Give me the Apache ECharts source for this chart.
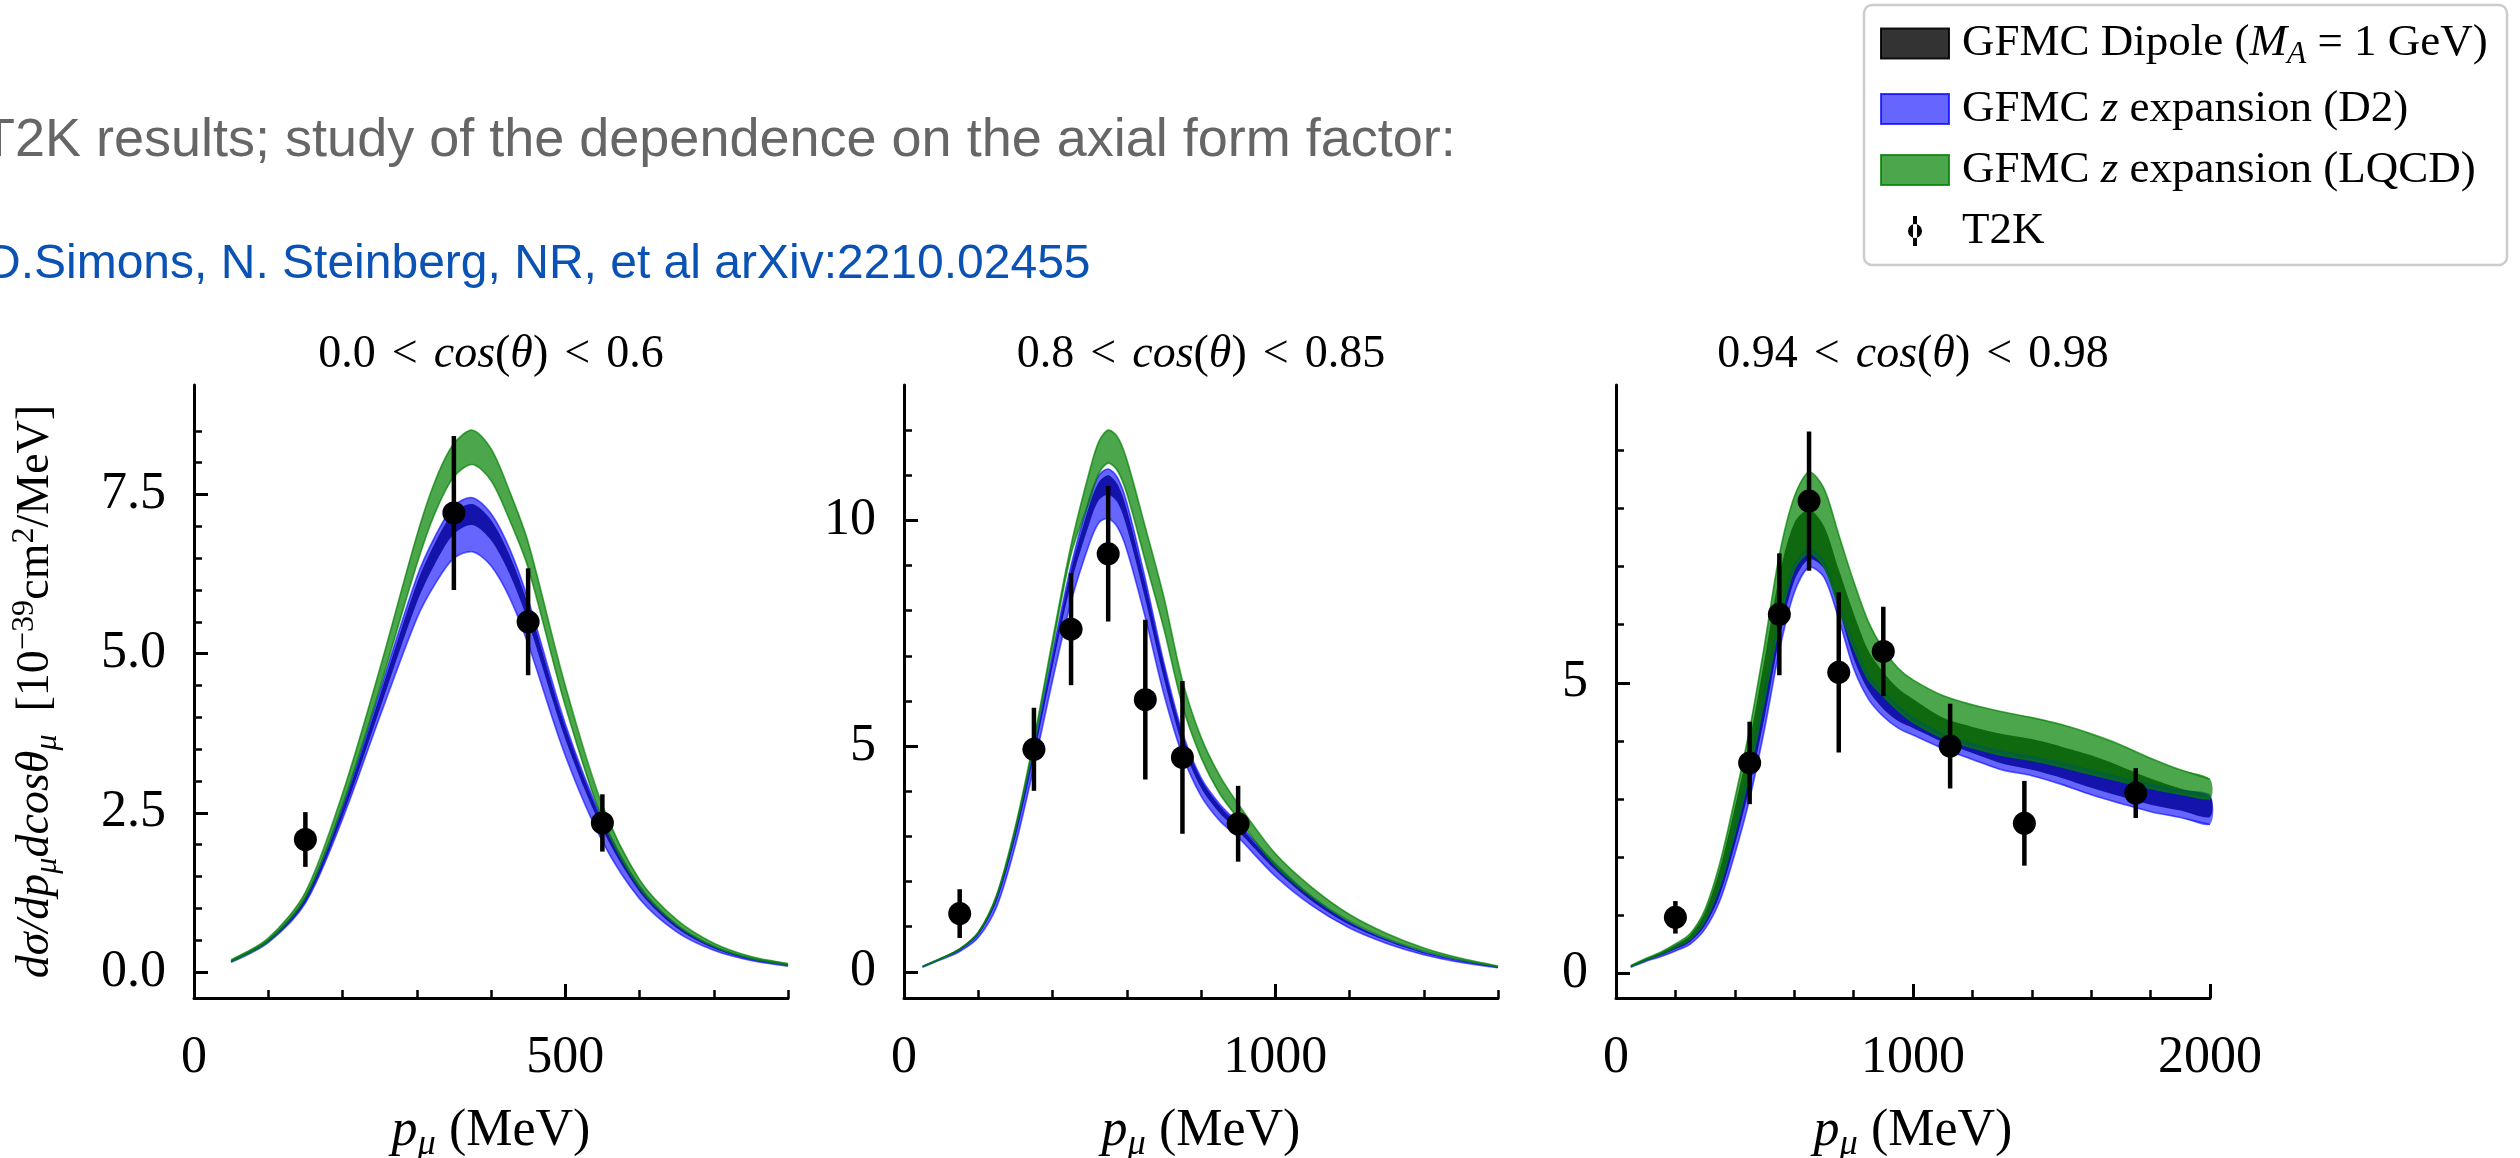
<!DOCTYPE html>
<html>
<head>
<meta charset="utf-8">
<script src="https://cdn.jsdelivr.net/npm/echarts/dist/echarts.min.js"></script>
<style>
html,body{margin:0;padding:0;background:#fff;}
#chart{width:2520px;height:1158px;}
</style>
</head>
<body>
<div id="chart"></div>
<script>
// ---------------- DATA ----------------
// Panel 1 : 0.0 < cos(theta) < 0.6
const p1_x      = [50,100,150,200,250,300,325,350,375,400,425,450,500,550,600,650,700,750,800];
const p1_lq_hi  = [0.19,0.53,1.25,2.80,4.75,6.85,7.72,8.30,8.51,8.22,7.55,6.75,4.50,2.62,1.45,0.82,0.45,0.24,0.13];
const p1_lq_lo  = [0.16,0.48,1.16,2.62,4.45,6.40,7.22,7.78,7.97,7.72,7.10,6.35,4.18,2.40,1.32,0.74,0.40,0.21,0.11];
const p1_d2_hi  = [0.17,0.50,1.17,2.60,4.40,6.20,6.85,7.32,7.45,7.20,6.65,5.85,3.90,2.40,1.35,0.74,0.40,0.21,0.11];
const p1_d2_lo  = [0.15,0.46,1.08,2.40,4.00,5.55,6.10,6.50,6.60,6.38,5.88,5.15,3.40,2.05,1.15,0.63,0.34,0.18,0.09];
const p1_dip_hi = [0.17,0.49,1.15,2.56,4.33,6.10,6.75,7.22,7.35,7.10,6.55,5.77,3.85,2.36,1.33,0.73,0.39,0.20,0.10];
const p1_dip_lo = [0.16,0.47,1.10,2.45,4.12,5.80,6.42,6.88,7.02,6.78,6.25,5.50,3.66,2.24,1.26,0.69,0.37,0.19,0.10];
const p1_t2k_x   = [150,350,450,550];
const p1_t2k_y   = [2.08,7.21,5.50,2.34];
const p1_t2k_err = [0.43,1.21,0.84,0.45];

// Panel 2 : 0.8 < cos(theta) < 0.85
const p2_x      = [50,100,150,200,250,300,350,400,450,500,525,550,575,600,650,700,750,800,850,900,1000,1100,1200,1300,1400,1500,1600];
const p2_lq_hi  = [0.12,0.30,0.51,0.88,1.72,3.22,5.15,7.35,9.45,11.10,11.75,12.00,11.85,11.35,9.85,8.30,6.45,5.20,4.35,3.72,2.62,1.86,1.27,0.85,0.53,0.30,0.13];
const p2_lq_lo  = [0.12,0.29,0.50,0.86,1.68,3.15,5.05,7.20,9.25,10.45,11.05,11.27,11.10,10.60,9.10,7.60,5.90,4.75,3.95,3.40,2.35,1.65,1.12,0.74,0.46,0.26,0.11];
const p2_d2_hi  = [0.12,0.30,0.50,0.86,1.66,3.12,4.98,7.05,9.00,10.50,11.00,11.14,10.95,10.40,8.70,6.85,5.30,4.30,3.72,3.30,2.40,1.66,1.10,0.72,0.44,0.25,0.10];
const p2_d2_lo  = [0.10,0.27,0.45,0.76,1.45,2.80,4.55,6.45,8.20,9.50,9.95,10.04,9.85,9.35,7.85,6.15,4.80,3.90,3.35,2.98,2.12,1.46,0.97,0.63,0.38,0.21,0.09];
const p2_dip_hi = [0.12,0.30,0.50,0.85,1.64,3.08,4.92,6.95,8.90,10.35,10.85,11.00,10.80,10.25,8.60,6.80,5.25,4.27,3.68,3.26,2.37,1.64,1.09,0.71,0.43,0.24,0.10];
const p2_dip_lo = [0.11,0.29,0.48,0.82,1.58,2.98,4.78,6.75,8.60,9.95,10.45,10.57,10.40,9.85,8.25,6.50,5.02,4.08,3.52,3.12,2.26,1.56,1.04,0.68,0.41,0.23,0.10];
const p2_t2k_x   = [150,350,450,550,650,750,900];
const p2_t2k_y   = [1.29,4.93,7.59,9.26,6.03,4.75,3.28];
const p2_t2k_err = [0.54,0.92,1.24,1.50,1.77,1.69,0.84];

// Panel 3 : 0.94 < cos(theta) < 0.98
const p3_x      = [50,100,150,200,250,300,350,400,450,500,550,600,650,700,750,800,850,900,950,1000,1100,1200,1300,1400,1500,1600,1700,1800,1900,2000];
const p3_lq_hi  = [0.13,0.25,0.36,0.50,0.68,1.10,1.90,3.00,4.20,5.65,7.20,8.20,8.63,8.35,7.55,6.75,6.05,5.58,5.25,5.05,4.78,4.62,4.50,4.40,4.28,4.12,3.93,3.70,3.50,3.34];
const p3_lq_lo  = [0.11,0.22,0.32,0.44,0.58,0.90,1.50,2.40,3.45,4.70,6.00,6.95,7.23,7.00,6.30,5.60,5.05,4.77,4.52,4.32,4.05,3.88,3.75,3.66,3.55,3.42,3.30,3.18,3.08,3.00];
const p3_d2_hi  = [0.12,0.23,0.33,0.45,0.60,0.93,1.55,2.48,3.55,4.82,6.10,7.02,7.30,7.08,6.38,5.68,5.12,4.84,4.60,4.40,4.12,3.95,3.82,3.73,3.62,3.49,3.37,3.25,3.15,3.07];
const p3_d2_lo  = [0.10,0.20,0.28,0.38,0.50,0.76,1.25,2.05,3.00,4.20,5.55,6.55,6.99,6.82,6.10,5.25,4.72,4.42,4.22,4.10,3.87,3.68,3.50,3.40,3.25,3.07,2.92,2.78,2.68,2.56];
const p3_dip_hi = [0.12,0.24,0.35,0.48,0.65,1.05,1.80,2.85,4.00,5.40,6.85,7.75,7.98,7.70,6.95,6.20,5.55,5.18,4.90,4.72,4.40,4.24,4.12,4.03,3.90,3.75,3.56,3.35,3.18,3.04];
const p3_dip_lo = [0.11,0.21,0.30,0.41,0.54,0.82,1.35,2.20,3.20,4.40,5.75,6.75,7.13,6.97,6.27,5.42,4.87,4.55,4.34,4.22,3.98,3.79,3.61,3.50,3.36,3.19,3.04,2.90,2.80,2.69];
const p3_t2k_x   = [200,450,550,650,750,900,1125,1375,1750];
const p3_t2k_y   = [0.96,3.62,6.18,8.13,5.18,5.54,3.91,2.58,3.10];
const p3_t2k_err = [0.28,0.71,1.05,1.20,1.38,0.77,0.73,0.73,0.43];

// Axis ranges and ticks
const x_max       = [800, 1600, 2000];
const y_min       = [-0.41, -0.58, -0.43];
const y_max       = [9.22, 13.0, 10.13];
const x_major     = [[0,500],[0,1000],[0,1000,2000]];
const x_minor     = [[100,200,300,400,600,700,800],[200,400,600,800,1200,1400,1600],[200,400,600,800,1200,1400,1600,1800]];
const y_major     = [[0,2.5,5,7.5],[0,5,10],[0,5]];
const y_minor     = [[0.5,1,1.5,2,3,3.5,4,4.5,5.5,6,6.5,7,8,8.5],[1,2,3,4,6,7,8,9,11,12],[1,2,3,4,6,7,8,9]];
const panel_titles = [['0.0','0.6'],['0.8','0.85'],['0.94','0.98']];

const names = {
  dip: 'GFMC Dipole (M_A = 1 GeV)',
  d2: 'GFMC z expansion (D2)',
  lq: 'GFMC z expansion (LQCD)',
  t2k: 'T2K'
};

// ---------------- STYLE ----------------
const SERIF = "'Liberation Serif','Times New Roman',serif";
const SANS = "'Liberation Sans',Arial,Helvetica,sans-serif";
const C_DIP = 'rgba(0,0,0,0.8)';
const C_D2 = 'rgba(0,0,255,0.6)';
const C_LQ = 'rgba(0,128,0,0.7)';

const gridLeft = [194, 904, 1616];
const gridW = 594, gridTop = 385, gridH = 613;

function richSet(fs, relPad) {
  const base = {fontFamily: SERIF, fontWeight: 'normal', color: '#000'};
  return {
    r: Object.assign({}, base, {fontSize: fs, lineHeight: fs * 1.2, verticalAlign: 'middle'}),
    r0: Object.assign({}, base, {fontSize: fs, lineHeight: fs * 1.2, verticalAlign: 'middle', padding: [0,0,0,8]}),
    i: Object.assign({}, base, {fontStyle: 'italic', fontSize: fs, lineHeight: fs * 1.2, verticalAlign: 'middle'}),
    rel: Object.assign({}, base, {fontSize: fs, lineHeight: fs * 1.2, verticalAlign: 'middle', padding: [0, relPad || 8, 0, relPad || 8]}),
    s: Object.assign({}, base, {fontStyle: 'italic', fontSize: fs * 0.7, lineHeight: fs * 0.7, verticalAlign: 'bottom'}),
    sup: Object.assign({}, base, {fontSize: fs * 0.7, lineHeight: fs * 0.7, verticalAlign: 'top'})
  };
}

const panels = [
  {x: p1_x, dip: [p1_dip_lo, p1_dip_hi], d2: [p1_d2_lo, p1_d2_hi], lq: [p1_lq_lo, p1_lq_hi], tx: p1_t2k_x, ty: p1_t2k_y, te: p1_t2k_err},
  {x: p2_x, dip: [p2_dip_lo, p2_dip_hi], d2: [p2_d2_lo, p2_d2_hi], lq: [p2_lq_lo, p2_lq_hi], tx: p2_t2k_x, ty: p2_t2k_y, te: p2_t2k_err},
  {x: p3_x, dip: [p3_dip_lo, p3_dip_hi], d2: [p3_d2_lo, p3_d2_hi], lq: [p3_lq_lo, p3_lq_hi], tx: p3_t2k_x, ty: p3_t2k_y, te: p3_t2k_err}
];

const grids = [], xAxes = [], yAxes = [], series = [], titles = [];

// A band is drawn as one filled polygon (upper edge forward, lower edge back),
// every vertex placed through the axis scales with api.coord.
function bandSeries(pi, xs, lo, hi, name, fill, edge) {
  series.push({
    type: 'custom', name: name, xAxisIndex: 2 * pi, yAxisIndex: 2 * pi,
    silent: true, animation: false, itemStyle: {color: fill},
    data: xs.map((x, i) => [x, lo[i], hi[i]]),
    encode: {x: 0, y: [1, 2]},
    renderItem: function (params, api) {
      if (params.dataIndexInside !== 0) return null;
      const n = params.dataInsideLength;
      const up = [], dn = [];
      for (let k = 0; k < n; k++) {
        const x = api.value(0, k);
        up.push(api.coord([x, api.value(2, k)]));
        dn.push(api.coord([x, api.value(1, k)]));
      }
      const poly = up.concat(dn.slice().reverse());
      const children = [{type: 'polygon', shape: {points: poly, smooth: 0.3}, style: {fill: fill, stroke: null}}];
      if (edge) {
        children.push({type: 'polyline', shape: {points: up, smooth: 0.3}, style: {stroke: fill, lineWidth: 1.6, fill: null}});
        children.push({type: 'polyline', shape: {points: dn, smooth: 0.3}, style: {stroke: fill, lineWidth: 1.6, fill: null}});
      }
      return {type: 'group', children: children};
    }
  });
}

panels.forEach((p, pi) => {
  grids.push({left: gridLeft[pi], top: gridTop, width: gridW, height: gridH, containLabel: false, outerBoundsMode: 'none'});
  xAxes.push({
    type: 'value', gridIndex: pi, position: 'bottom', min: 0, max: x_max[pi],
    axisLine: {show: true, onZero: false, lineStyle: {color: '#000', width: 3}},
    axisTick: {show: true, inside: true, length: 14, lineStyle: {color: '#000', width: 3}, customValues: x_major[pi]},
    axisLabel: {show: true, customValues: x_major[pi], fontFamily: SERIF, fontSize: 52, color: '#000', margin: 34, formatter: v => String(v)},
    splitLine: {show: false},
    name: '{i|p}{s|μ}{r| (MeV)}', nameLocation: 'middle', nameGap: 102,
    nameTextStyle: {rich: richSet(52)}
  });
  xAxes.push({
    type: 'value', gridIndex: pi, position: 'bottom', min: 0, max: x_max[pi],
    axisLine: {show: false, onZero: false},
    axisTick: {show: true, inside: true, length: 8, lineStyle: {color: '#000', width: 2.5}, customValues: x_minor[pi]},
    axisLabel: {show: false}, splitLine: {show: false}
  });
  const yAx = {
    type: 'value', gridIndex: pi, position: 'left', min: y_min[pi], max: y_max[pi],
    axisLine: {show: true, onZero: false, lineStyle: {color: '#000', width: 3}},
    axisTick: {show: true, inside: true, length: 14, lineStyle: {color: '#000', width: 3}, customValues: y_major[pi]},
    axisLabel: {show: true, customValues: y_major[pi], fontFamily: SERIF, fontSize: 52, color: '#000', margin: 28,
      formatter: v => (pi === 0 ? Number(v).toFixed(1) : String(Math.round(v)))},
    splitLine: {show: false}
  };
  if (pi === 0) {
    yAx.name = '{i|dσ/dp}{s|μ}{i|dcosθ}{s|μ}{r|  [10}{sup|−39}{r|cm}{sup|2}{r|/MeV]}';
    yAx.nameLocation = 'middle';
    yAx.nameRotate = 90;
    yAx.nameGap = 130;
    yAx.nameTextStyle = {rich: richSet(46)};
  }
  yAxes.push(yAx);
  yAxes.push({
    type: 'value', gridIndex: pi, position: 'left', min: y_min[pi], max: y_max[pi],
    axisLine: {show: false, onZero: false},
    axisTick: {show: true, inside: true, length: 8, lineStyle: {color: '#000', width: 2.5}, customValues: y_minor[pi]},
    axisLabel: {show: false}, splitLine: {show: false}
  });

  bandSeries(pi, p.x, p.dip[0], p.dip[1], names.dip, C_DIP, false);
  bandSeries(pi, p.x, p.d2[0], p.d2[1], names.d2, C_D2, true);
  bandSeries(pi, p.x, p.lq[0], p.lq[1], names.lq, C_LQ, true);

  series.push({
    type: 'custom', name: names.t2k, xAxisIndex: 2 * pi, yAxisIndex: 2 * pi, z: 5, silent: true,
    data: p.tx.map((x, i) => [x, p.ty[i] - p.te[i], p.ty[i] + p.te[i]]),
    encode: {x: 0, y: [1, 2]},
    renderItem: function (params, api) {
      const a = api.coord([api.value(0), api.value(1)]);
      const b = api.coord([api.value(0), api.value(2)]);
      return {type: 'line', shape: {x1: a[0], y1: a[1], x2: b[0], y2: b[1]}, style: {stroke: '#000', lineWidth: 4.5}};
    },
    itemStyle: {color: '#000'}, animation: false
  });
  series.push({
    type: 'scatter', name: names.t2k, xAxisIndex: 2 * pi, yAxisIndex: 2 * pi, z: 6,
    symbol: 'circle', symbolSize: 23, itemStyle: {color: '#000', opacity: 1},
    data: p.tx.map((x, i) => [x, p.ty[i]]), animation: false, silent: true
  });

  const t = panel_titles[pi];
  titles.push({
    text: '{r|' + t[0] + '}{rel|<}{i|cos}{r|(}{i|θ}{r|)}{rel|<}{r|' + t[1] + '}',
    left: gridLeft[pi] + gridW / 2, top: 327, textAlign: 'center', padding: 0,
    textStyle: {fontWeight: 'normal', rich: richSet(46, 16)}
  });
});

const legendFmt = {};
legendFmt[names.dip] = '{r0|GFMC Dipole (}{i|M}{s|A}{r| = 1 GeV)}';
legendFmt[names.d2] = '{r0|GFMC }{i|z}{r| expansion (D2)}';
legendFmt[names.lq] = '{r0|GFMC }{i|z}{r| expansion (LQCD)}';
legendFmt[names.t2k] = '{r0|T2K}';

const option = {
  animation: false,
  backgroundColor: '#ffffff',
  title: titles,
  grid: grids,
  xAxis: xAxes,
  yAxis: yAxes,
  legend: {
    orient: 'vertical', left: 1880, top: 21, z: 10, padding: 0,
    itemWidth: 68, itemHeight: 30, itemGap: 16, selectedMode: false,
    data: [
      {name: names.dip, icon: 'rect', itemStyle: {color: 'rgba(0,0,0,0.8)', borderColor: 'rgba(0,0,0,0.9)', borderWidth: 2}},
      {name: names.d2, icon: 'rect', itemStyle: {color: 'rgba(0,0,255,0.6)', borderColor: 'rgba(0,0,255,0.75)', borderWidth: 2}},
      {name: names.lq, icon: 'rect', itemStyle: {color: 'rgba(0,128,0,0.7)', borderColor: 'rgba(0,128,0,0.8)', borderWidth: 2}},
      {name: names.t2k, icon: 'path://M5 0h4v30h-4z M0 15a7 7 0 1 0 14 0a7 7 0 1 0 -14 0z', itemStyle: {color: '#000', borderWidth: 0}}
    ],
    formatter: n => legendFmt[n] || n,
    textStyle: {rich: richSet(45)}
  },
  graphic: [
    {type: 'rect', z: 1, shape: {x: 1864, y: 5, width: 643, height: 260, r: 8}, style: {fill: '#ffffff', stroke: '#cccccc', lineWidth: 2.5}},
    {type: 'text', z: 2, x: -18, y: 141, style: {text: 'T2K results; study of the dependence on the axial form factor:', fontFamily: SANS, fontSize: 54, fill: '#666666', align: 'left', verticalAlign: 'middle'}},
    {type: 'text', z: 2, x: -14, y: 265, style: {text: 'D.Simons, N. Steinberg, NR, et al arXiv:2210.02455', fontFamily: SANS, fontSize: 48, fill: '#0b52b5', align: 'left', verticalAlign: 'middle'}}
  ],
  series: series
};

const chart = echarts.init(document.getElementById('chart'), null, {renderer: 'canvas'});
chart.setOption(option);
</script>
</body>
</html>
